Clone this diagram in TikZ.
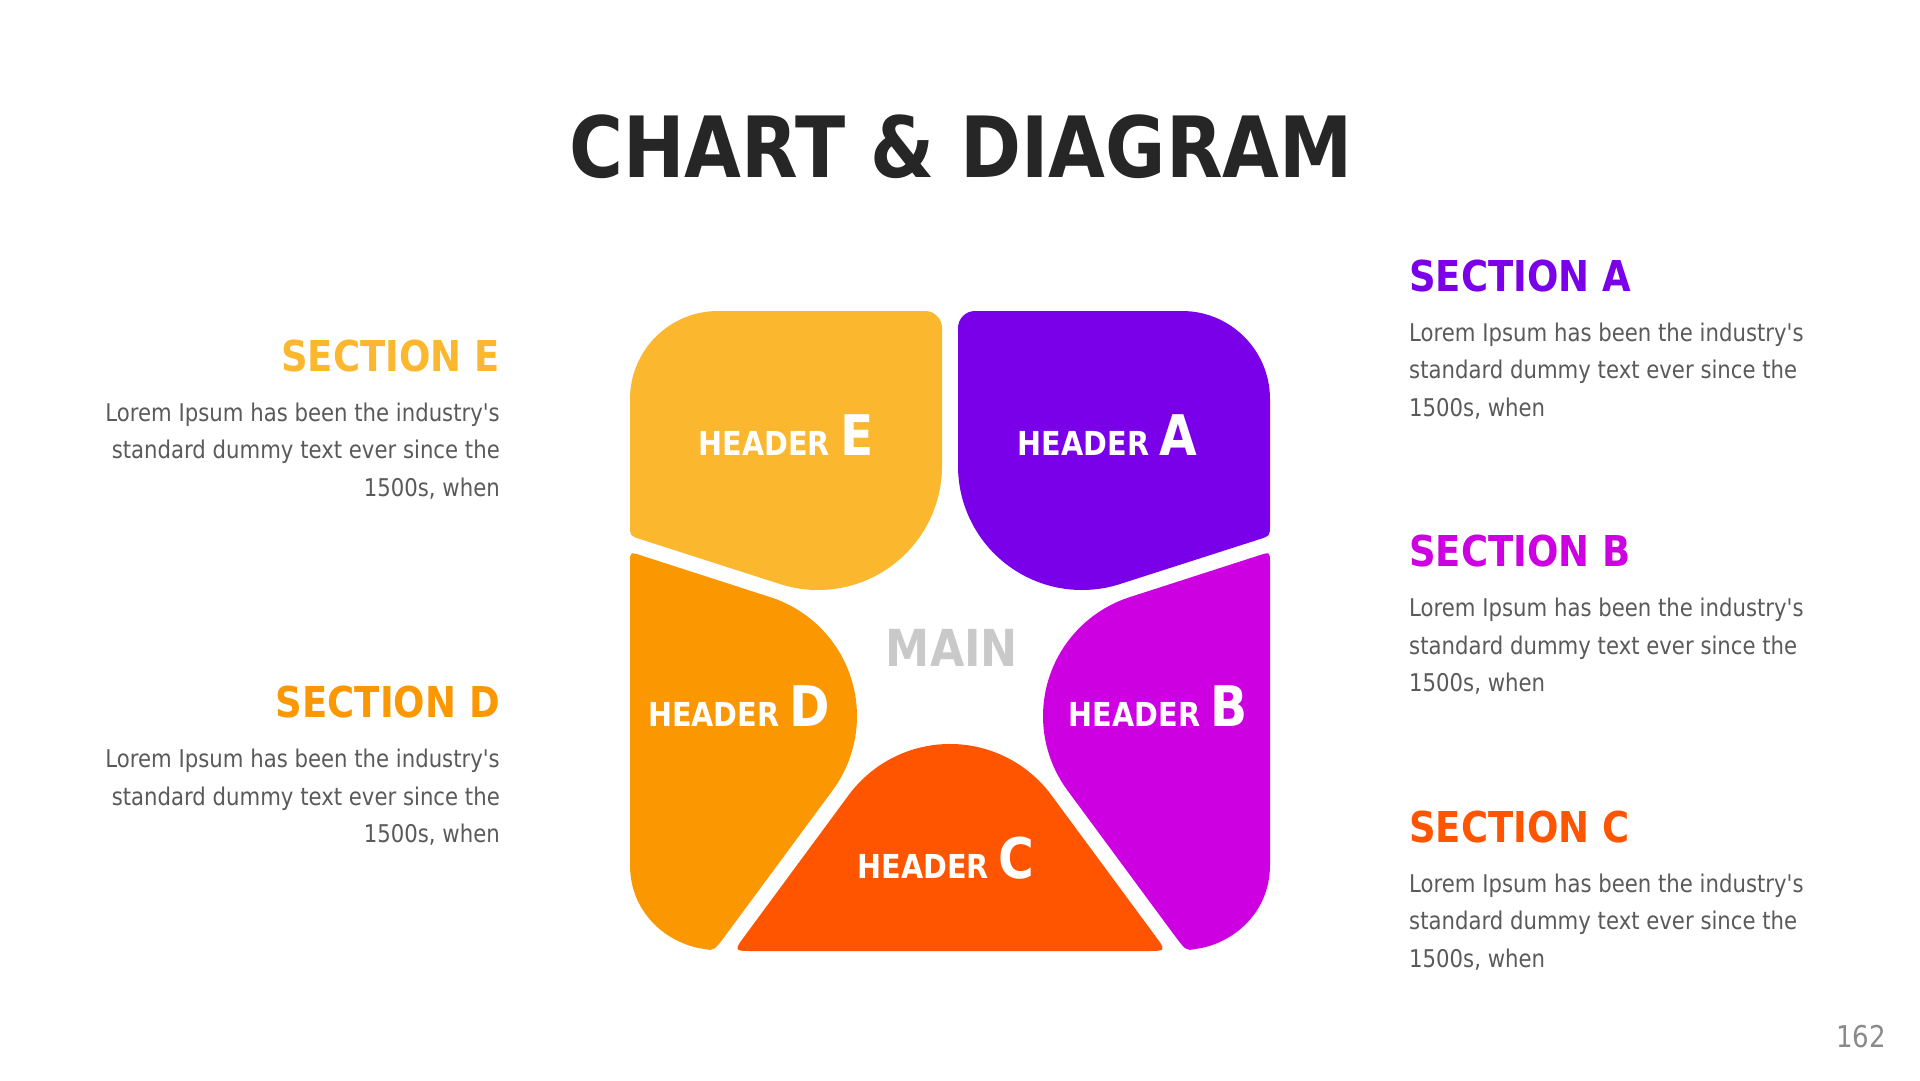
\documentclass[tikz,border=0pt]{standalone}
\usepackage{fontspec}
\setmainfont{DejaVu Sans}[FakeStretch=0.87]
\font\aposfont="DejaVu Sans:extend=0.87" at 24.4pt
\definecolor{colE}{HTML}{FBB72D}
\definecolor{colA}{HTML}{7B00EA}
\definecolor{colB}{HTML}{CC00E0}
\definecolor{colC}{HTML}{FF5500}
\definecolor{colD}{HTML}{FB9700}
\definecolor{titlegray}{HTML}{262626}
\definecolor{bodygray}{HTML}{5A5A5A}
\definecolor{maingray}{HTML}{C9C9C9}
\definecolor{pagegray}{HTML}{8A8A8A}
\tikzset{
  bodytext/.style={font=\fontsize{24.4}{30}\selectfont, text=bodygray, inner sep=0pt},
  sechead/.style={font=\fontsize{42.5}{50}\selectfont\bfseries, inner sep=0pt},
  hdr/.style={font=\fontsize{33}{40}\selectfont\bfseries, text=white, inner sep=0pt, anchor=base},
}
\newcommand{\bigletter}[1]{{\fontsize{56}{60}\selectfont #1}}
\newcommand{\firstline}{Lorem Ipsum has been the industry{\aposfont'}s}
\begin{document}
\begin{tikzpicture}[x=1pt,y=-1pt]
\useasboundingbox (0,0) rectangle (1920,1080);
\fill[white] (0,0) rectangle (1920,1080);

% Shape E
\fill[colE] (630,399) arc[start angle=180, end angle=270, radius=88]
  -- (925,311) arc[start angle=270, end angle=360, radius=17]
  -- (942,466) arc[start angle=0, end angle=107.8, radius=124]
  -- (641,539.4) .. controls (630,535.9) .. (630,525) -- cycle;
% Shape A
\fill[colA] (1270,399) arc[start angle=0, end angle=-90, radius=88]
  -- (975,311) arc[start angle=270, end angle=180, radius=17]
  -- (958,466) arc[start angle=180, end angle=72.2, radius=124]
  -- (1259,539.4) .. controls (1270,535.9) .. (1270,525) -- cycle;
% Shape D
\fill[colD] (630,563) -- (630,865) .. controls (630,915) and (670,945) .. (705,949)
  .. controls (714,951) .. (728.6,931.2) -- (832.6,790.3)
  arc[start angle=36.4, end angle=-72.2, radius=125]
  -- (641,555.4) .. controls (630,551.9) .. (630,563) -- cycle;
% Shape B
\fill[colB] (1270,563) -- (1270,865) .. controls (1270,915) and (1230,945) .. (1195,949)
  .. controls (1186,951) .. (1171.4,931.2) -- (1067.4,790.3)
  arc[start angle=143.6, end angle=252.2, radius=125]
  -- (1259,555.4) .. controls (1270,551.9) .. (1270,563) -- cycle;
% Shape C
\fill[colC] (753.6,951) -- (1146.4,951) .. controls (1166.4,951) .. (1154.5,934.9)
  -- (1051.4,795.2) arc[start angle=-36.4, end angle=-143.6, radius=126]
  -- (745.5,934.9) .. controls (733.6,951) .. (753.6,951) -- cycle;

% Labels in shapes
\node[hdr] (hE) at (786,455) {HEADER \bigletter{E}};
\node[hdr] (hA) at (1107.5,455) {HEADER \bigletter{A}};
\node[hdr] (hD) at (739,726) {HEADER \bigletter{D}};
\node[hdr] (hB) at (1158,726) {HEADER \bigletter{B}};
\node[hdr] (hC) at (946,878) {HEADER \bigletter{C}};
\node[anchor=base, inner sep=0pt, font=\fontsize{51}{55}\selectfont\bfseries, text=maingray] (main) at (952,666) {MAIN};

% Title
\node[anchor=base, inner sep=0pt, font=\fontsize{84.5}{90}\selectfont\bfseries, text=titlegray] (title) at (961,177) {CHART \& DIAGRAM};

% Right column
\node[sechead, text=colA, anchor=base west] (sA) at (1409,291) {SECTION A};
\node[bodytext, anchor=base west] (sA1) at (1409,341) {\firstline};
\node[bodytext, anchor=base west] (sA2) at (1409,378.5) {standard dummy text ever since the};
\node[bodytext, anchor=base west] (sA3) at (1409,416) {1500s, when};

\node[sechead, text=colB, anchor=base west] (sB) at (1409,566.5) {SECTION B};
\node[bodytext, anchor=base west] (sB1) at (1409,616.5) {\firstline};
\node[bodytext, anchor=base west] (sB2) at (1409,654) {standard dummy text ever since the};
\node[bodytext, anchor=base west] (sB3) at (1409,691.5) {1500s, when};

\node[sechead, text=colC, anchor=base west] (sC) at (1409,842) {SECTION C};
\node[bodytext, anchor=base west] (sC1) at (1409,892) {\firstline};
\node[bodytext, anchor=base west] (sC2) at (1409,929.5) {standard dummy text ever since the};
\node[bodytext, anchor=base west] (sC3) at (1409,967) {1500s, when};

% Left column
\node[sechead, text=colE, anchor=base east] (sE) at (500,371) {SECTION E};
\node[bodytext, anchor=base east] (sE1) at (500,421) {\firstline};
\node[bodytext, anchor=base east] (sE2) at (500,458.5) {standard dummy text ever since the};
\node[bodytext, anchor=base east] (sE3) at (500,496) {1500s, when};

\node[sechead, text=colD, anchor=base east] (sD) at (500,717.5) {SECTION D};
\node[bodytext, anchor=base east] (sD1) at (500,767.5) {\firstline};
\node[bodytext, anchor=base east] (sD2) at (500,805) {standard dummy text ever since the};
\node[bodytext, anchor=base east] (sD3) at (500,842.5) {1500s, when};

% Page number
\node[anchor=base east, inner sep=0pt, font=\fontsize{30}{34}\selectfont, text=pagegray] (page) at (1886,1047) {162};
\end{tikzpicture}
\end{document}
